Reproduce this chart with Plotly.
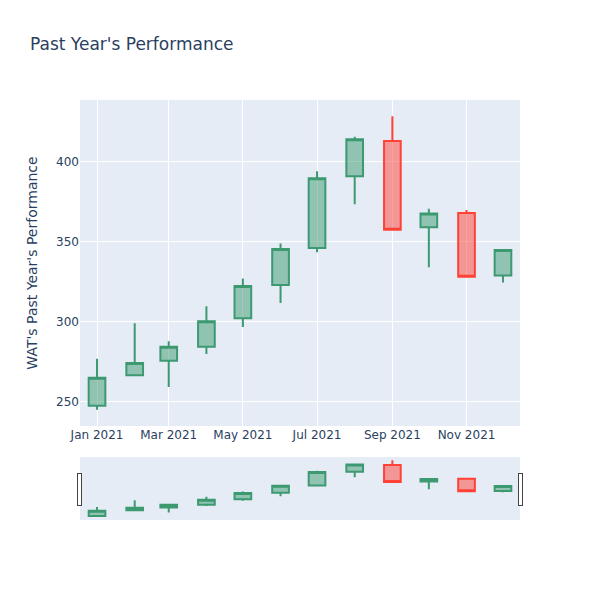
import plotly.graph_objects as go

dates = ['2021-01-01', '2021-02-01', '2021-03-01', '2021-04-01', '2021-05-01', '2021-06-01',
         '2021-07-01', '2021-08-01', '2021-09-01', '2021-10-01', '2021-11-01', '2021-12-01']
open_ = [247.5, 266.5, 275.6, 284.4, 302.1, 322.9, 346.0, 390.8, 412.9, 359.0, 367.9, 328.8]
high = [276.9, 299.0, 287.7, 309.6, 326.9, 348.8, 394.0, 415.6, 428.3, 370.6, 369.8, 344.8]
low = [245.0, 266.5, 259.2, 279.8, 296.7, 311.7, 343.3, 373.3, 357.2, 334.0, 327.5, 324.4]
close = [265.0, 274.2, 284.4, 300.2, 322.3, 345.4, 389.6, 414.0, 357.5, 367.5, 328.1, 344.8]

fig = go.Figure(go.Candlestick(
    x=dates, open=open_, high=high, low=low, close=close
))

fig.update_layout(
    title="Past Year's Performance",
    yaxis={'title': "WAT's Past Year's Performance"},
    font={'family': 'DejaVu Sans'},
    width=600, height=600,
)

# page body has a default 8px margin; drop it so the figure sits at the corner
fig.write_html("out.html", config={'displayModeBar': False},
               post_script="document.body.style.margin='0px';")
